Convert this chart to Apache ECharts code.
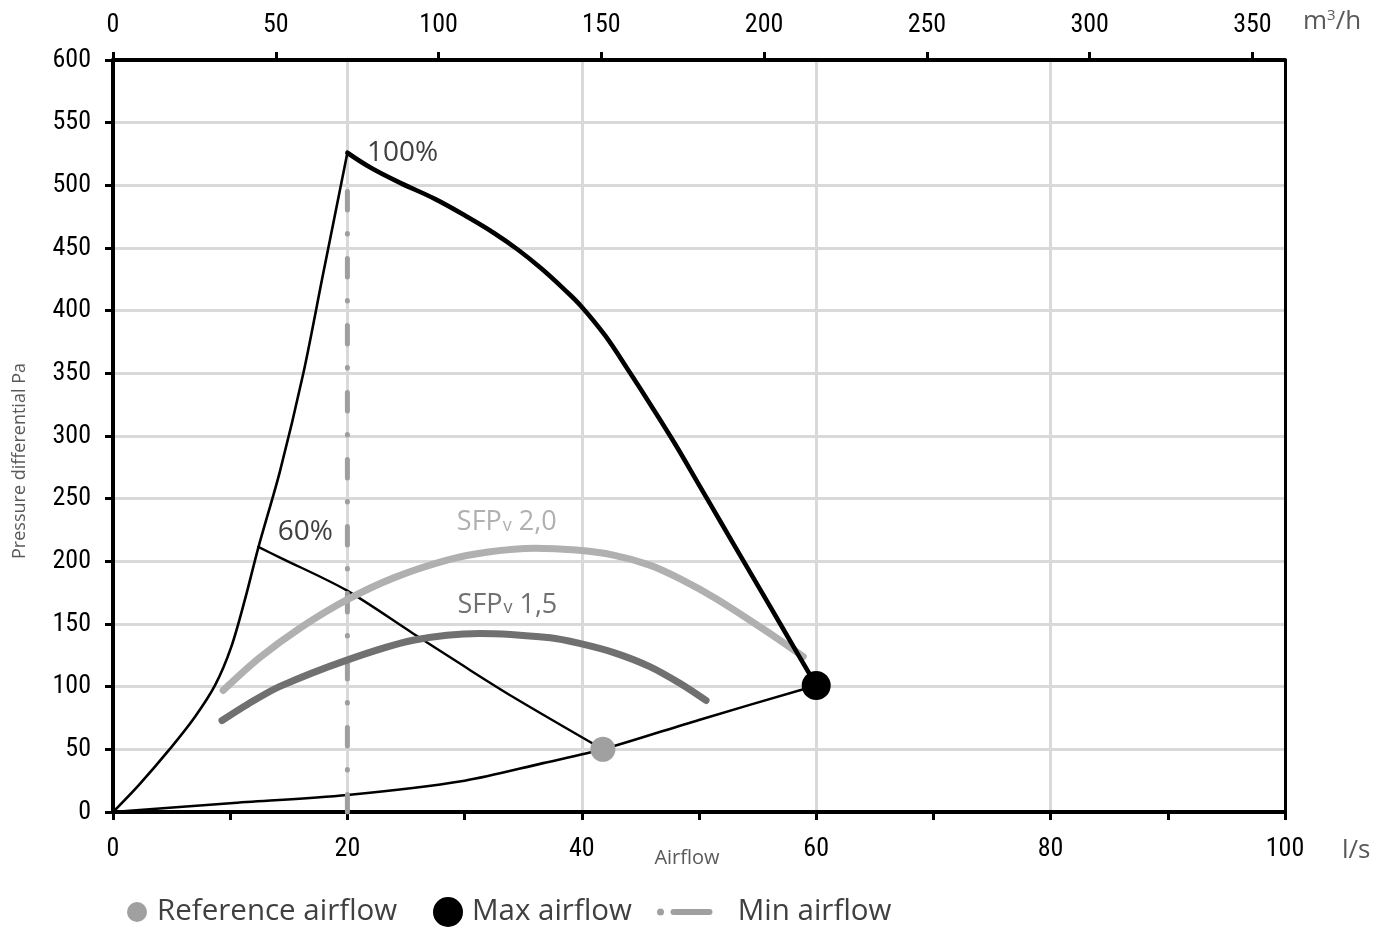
<!DOCTYPE html>
<html>
<head>
<meta charset="utf-8">
<script src="https://cdn.jsdelivr.net/npm/echarts@6/dist/echarts.min.js"></script>
<style>
html,body{margin:0;padding:0;background:#fff;}
#chart{width:1389px;height:931px;}
</style>
</head>
<body>
<div id="chart"></div>
<script>
// ---- data (x in l/s, y in Pa) ----
var leftBoundary = [[0,0],[2.2,21.5],[5,52],[7,76],[8.7,101],[10.1,132],[11.3,171],[12.4,211],[14.25,272],[16.24,350],[17.9,428],[20,526]];
var fan100 = [[20,526],[22,514],[24.5,502],[27.5,489],[30.2,475],[32.5,462],[34.5,449],[36.5,434],[38.5,417],[40,403],[42,380],[44,352],[46,323],[48,293],[50,261],[52,229],[54,197],[56,165],[58,133],[60,101]];
var fan60 = [[12.4,211.5],[14.25,203],[19.9,177],[25.6,142.5],[30,116],[34.1,92],[41.8,50]];
var systemCurve = [[0,0],[10,7],[20,13.6],[30,25],[36.7,39],[41.8,50],[50,73.5],[60,101]];
var sfp20 = [[9.4,97],[12.5,123],[16,147],[19.9,169],[24,187],[28.5,201],[32,207.5],[36,210.5],[39.5,209],[42.7,205],[45.8,197],[48.4,186],[51.5,170],[55.8,144],[58.9,124]];
var sfp15 = [[9.3,73],[11.5,86],[14.2,100],[19.9,121],[25.6,137],[31.3,142.5],[37.3,139],[39.8,134.5],[42.8,127],[45.8,116],[48.4,102.5],[50.6,89]];
var minAirflow = [[20,495],[20,0]];
var referencePoint = [[41.8,50]];
var maxPoint = [[60,101]];
var curveLabels = [['100%',24.7,526],['60%',16.4,223],['SFPv 2,0',33.6,231],['SFPv 1,5',33.65,165]];
var xTicksLs = {min:0,max:100,step:10,labelStep:20};
var xTicksM3h = {min:0,max:360,step:50};
var yTicks = {min:0,max:600,step:50};

var tickFont = '"Liberation Sans Narrow","Roboto Condensed","DejaVu Sans Condensed",sans-serif';
var textFont = '"Open Sans","Noto Sans",sans-serif';

var chart = echarts.init(document.getElementById('chart'), null, {renderer:'canvas'});

function lineSeries(name, data, color, width, z, smooth){
  return {type:'line', name:name, data:data, showSymbol:false, symbol:'none', smooth:smooth || 0.3,
    lineStyle:{color:color, width:width, cap:'round', join:'round'}, z:z, silent:true, animation:false};
}

var labelRich = {
  big20:{fontFamily:textFont,fontSize:27,color:'#b0b0b0'},
  sub20:{fontFamily:textFont,fontSize:18,color:'#b0b0b0',padding:[6,0,0,1]},
  big15:{fontFamily:textFont,fontSize:27,color:'#707070'},
  sub15:{fontFamily:textFont,fontSize:18,color:'#707070',padding:[6,0,0,1]},
  pct:{fontFamily:textFont,fontSize:28,color:'#404040'}
};
function fmtLabel(t){
  if (t.indexOf('SFPv') === 0){
    var k = t.indexOf('2,0') > 0 ? '20' : '15';
    return '{big'+k+'|SFP}{sub'+k+'|v}{big'+k+'|'+t.slice(4)+'}';
  }
  return '{pct|'+t+'}';
}

var option = {
  backgroundColor:'#fff',
  animation:false,
  grid:{left:113,right:104,top:60,bottom:119,containLabel:false},
  xAxis:[
    {type:'value',position:'bottom',min:xTicksLs.min,max:xTicksLs.max,interval:xTicksLs.step,
      axisLine:{show:true,onZero:false,lineStyle:{color:'#000',width:4}},
      axisTick:{show:true,inside:false,length:8,lineStyle:{color:'#000',width:3}},
      axisLabel:{margin:24,fontFamily:tickFont,fontSize:26,color:'#000',
        formatter:function(v){return (v % xTicksLs.labelStep === 0) ? String(v) : '';}},
      splitLine:{show:false}},
    {type:'value',position:'top',min:xTicksM3h.min,max:xTicksM3h.max,interval:xTicksM3h.step,
      axisLine:{show:true,onZero:false,lineStyle:{color:'#000',width:4}},
      axisTick:{show:true,inside:false,length:8,lineStyle:{color:'#000',width:3}},
      axisLabel:{margin:22,fontFamily:tickFont,fontSize:26,color:'#000',showMaxLabel:false,
        formatter:function(v){return v > 350 ? '' : String(v);}},
      splitLine:{show:false}},
    {type:'value',position:'bottom',min:xTicksLs.min,max:xTicksLs.max,interval:xTicksLs.labelStep,
      axisLine:{show:false},axisTick:{show:false},axisLabel:{show:false},
      splitLine:{show:true,lineStyle:{color:'#d9d9d9',width:3}}}
  ],
  yAxis:[
    {type:'value',position:'left',min:yTicks.min,max:yTicks.max,interval:yTicks.step,
      axisLine:{show:true,onZero:false,lineStyle:{color:'#000',width:4}},
      axisTick:{show:true,inside:false,length:8,lineStyle:{color:'#000',width:3}},
      axisLabel:{margin:22,fontFamily:tickFont,fontSize:26,color:'#000'},
      splitLine:{show:true,lineStyle:{color:'#d9d9d9',width:3}}},
    {type:'value',position:'right',min:yTicks.min,max:yTicks.max,interval:yTicks.step,
      axisLine:{show:true,onZero:false,lineStyle:{color:'#000',width:3}},
      axisTick:{show:false},axisLabel:{show:false},splitLine:{show:false}}
  ],
  legend:[
    {left:127,top:897,padding:0,itemWidth:20,itemHeight:20,selectedMode:false,
      textStyle:{fontFamily:textFont,fontSize:29.5,color:'#404040',padding:[0,0,0,5]},
      data:[{name:'Reference airflow',icon:'circle',itemStyle:{color:'#a0a0a0',opacity:1}}]},
    {left:433,top:897,padding:0,itemWidth:30,itemHeight:30,selectedMode:false,
      textStyle:{fontFamily:textFont,fontSize:29.5,color:'#404040',padding:[0,0,0,4]},
      data:[{name:'Max airflow',icon:'circle',itemStyle:{color:'#000',opacity:1}}]},
    {left:657,top:897,padding:0,itemWidth:56,itemHeight:7,selectedMode:false,
      textStyle:{fontFamily:textFont,fontSize:29.5,color:'#404040',padding:[0,0,0,20]},
      data:[{name:'Min airflow',icon:'path://M0,3.5a3.5,3.5 0 1,0 7,0a3.5,3.5 0 1,0 -7,0zM16.5,0.5h36a3,3 0 0,1 0,6h-36a3,3 0 0,1 0,-6z',itemStyle:{color:'#a0a0a0',opacity:1}}]}
  ],
  graphic:[
    {type:'text',x:20,y:461,rotation:Math.PI/2,style:{text:'Pressure differential Pa',fontFamily:textFont,fontSize:18,fill:'#595959',textAlign:'center',textVerticalAlign:'middle'}},
    {type:'text',x:687,y:858,style:{text:'Airflow',fontFamily:textFont,fontSize:20,fill:'#595959',textAlign:'center',textVerticalAlign:'middle'}},
    {type:'text',x:1342,y:851,style:{text:'l/s',fontFamily:textFont,fontSize:26,fill:'#595959',textAlign:'left',textVerticalAlign:'middle'}},
    {type:'text',x:1303,y:22,style:{rich:{m:{fontFamily:textFont,fontSize:26,fill:'#595959'},s:{fontFamily:textFont,fontSize:15,fill:'#595959',padding:[0,0,12,0]}},text:'{m|m}{s|3}{m|/h}',textAlign:'left',textVerticalAlign:'middle'}}
  ],
  series:[
    lineSeries('leftBoundary', leftBoundary, '#000', 2.6, 2),
    lineSeries('fan60', fan60, '#000', 2.4, 2),
    lineSeries('system', systemCurve, '#000', 2.6, 2),
    {type:'line',name:'Min airflow',data:minAirflow,showSymbol:false,symbol:'none',z:2,
      itemStyle:{color:'#a0a0a0'},
      lineStyle:{color:'#9e9e9e',width:5,type:[18.5,23.5,0.5,24.5],cap:'round',opacity:1}},
    lineSeries('sfp20', sfp20, '#b0b0b0', 7, 3),
    lineSeries('sfp15', sfp15, '#707070', 7, 3),
    lineSeries('fan100', fan100, '#000', 4.6, 4, 0.4),
    {type:'scatter',name:'Reference airflow',data:referencePoint,symbol:'circle',symbolSize:25,
      itemStyle:{color:'#a0a0a0',opacity:1},z:5},
    {type:'scatter',name:'Max airflow',data:maxPoint,symbol:'circle',symbolSize:29,
      itemStyle:{color:'#000',opacity:1},z:5},
    {type:'scatter',name:'curveLabels',symbolSize:1,itemStyle:{color:'rgba(0,0,0,0)',opacity:1},z:6,silent:true,
      data:curveLabels.map(function(d){return {value:[d[1],d[2]],name:d[0]};}),
      label:{show:true,position:'inside',opacity:1,rich:labelRich,
        formatter:function(p){return fmtLabel(p.name);}}}
  ]
};
chart.setOption(option);
</script>
</body>
</html>
